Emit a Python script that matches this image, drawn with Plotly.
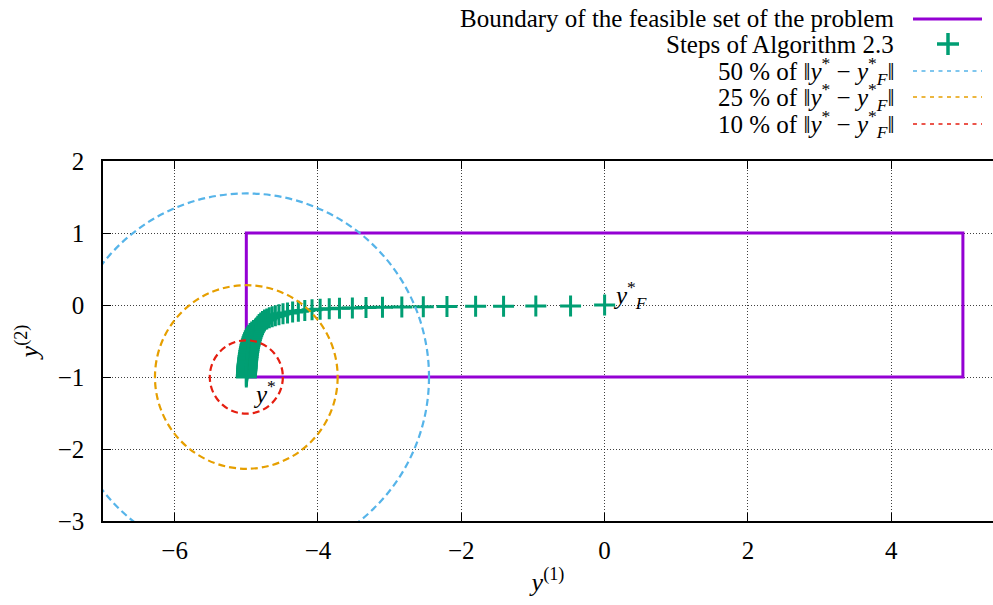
import plotly.graph_objects as go

# Feasible set boundary (box corners, closed path)
box_x = [-5, 5, 5, -5, -5]
box_y = [-1, -1, 1, 1, -1]

# Iterates of Algorithm 2.3, from y_F* towards y*
step_x = [0.000, -0.475, -0.960, -1.410, -1.800, -2.200, -2.530, -2.830, -3.100, -3.330,
          -3.520, -3.700, -3.843, -3.970, -4.083, -4.184, -4.274, -4.354, -4.425, -4.488,
          -4.545, -4.595, -4.639, -4.679, -4.714, -4.746, -4.774, -4.799, -4.821, -4.840,
          -4.858, -4.874, -4.888, -4.900, -4.911, -4.921, -4.929, -4.937, -4.944, -4.950,
          -4.956, -4.961, -4.965, -4.969, -4.972, -4.975, -4.978, -4.980, -4.982, -4.984,
          -4.986, -4.988, -4.989, -4.990, -4.991, -4.992, -4.993, -4.994, -4.995, -4.996,
          -4.997, -4.998, -4.999, -5.000]
step_y = [0.000, -0.013, -0.015, -0.017, -0.019, -0.021, -0.024, -0.028, -0.032, -0.036,
          -0.041, -0.046, -0.052, -0.058, -0.066, -0.076, -0.087, -0.098, -0.110, -0.122,
          -0.135, -0.148, -0.162, -0.177, -0.193, -0.210, -0.229, -0.250, -0.272, -0.295,
          -0.320, -0.346, -0.373, -0.400, -0.428, -0.456, -0.484, -0.512, -0.540, -0.567,
          -0.594, -0.620, -0.645, -0.669, -0.692, -0.714, -0.735, -0.755, -0.774, -0.792,
          -0.809, -0.825, -0.840, -0.854, -0.867, -0.880, -0.892, -0.904, -0.916, -0.930,
          -0.945, -0.960, -0.978, -1.000]

# Reference points
y_star = [-5.0, -1.0]
y_F = [0.0, 0.0]

# Circle radii as percentages of ||y* - y_F*||
percents = [50, 25, 10]
circle_colors = ["#56b4e9", "#e69f00", "#e51e10"]

x_ticks = [-6, -4, -2, 0, 2, 4]
y_ticks = [-3, -2, -1, 0, 1, 2]

PURPLE = "#9400d3"
GREEN = "#009e73"
FONT = "Liberation Serif"

dist = ((y_star[0] - y_F[0]) ** 2 + (y_star[1] - y_F[1]) ** 2) ** 0.5

fig = go.Figure()
fig.add_trace(go.Scatter(x=box_x, y=box_y, mode="lines",
                         line=dict(color=PURPLE, width=3), showlegend=False,
                         hoverinfo="skip"))
fig.add_trace(go.Scatter(x=step_x, y=step_y, mode="markers",
                         marker=dict(symbol="cross-thin", size=15, color=GREEN,
                                     line=dict(color=GREEN, width=3)),
                         showlegend=False))

# Dashed circles around y*
for p, c in zip(percents, circle_colors):
    r = p / 100.0 * dist
    fig.add_shape(type="circle", xref="x", yref="y",
                  x0=y_star[0] - r, x1=y_star[0] + r,
                  y0=y_star[1] - r, y1=y_star[1] + r,
                  line=dict(color=c, width=2.2, dash="7px,4px"), layer="above")

# Point labels
fig.add_annotation(x=y_star[0], y=y_star[1], xref="x", yref="y", showarrow=False,
                   text="<i>y</i><sup>*</sup>", xanchor="left", yanchor="middle",
                   xshift=5, yshift=-15, font=dict(family=FONT, size=25, color="black"))
fig.add_annotation(x=y_F[0], y=y_F[1], xref="x", yref="y", showarrow=False,
                   text="<i>y</i><sup>*</sup><sub><i>F</i></sub>", xanchor="left",
                   yanchor="middle", xshift=6, yshift=10,
                   font=dict(family=FONT, size=25, color="black"))

# Key (text on the left, sample on the right)
L, T, W, H = 103, 161, 890, 360


def px(x):
    return (x - L) / W


def py(y):
    return (T + H - y) / H


norm_txt = "‖<i>y</i><sup>*</sup> − <i>y</i><sup>*</sup><sub><i>F</i></sub>‖"
key_rows = [
    ("Boundary of the feasible set of the problem", 18),
    ("Steps of Algorithm 2.3", 44),
] + [(f"{p} % of {norm_txt}", yy) for p, yy in zip(percents, [71, 97, 124])]

for txt, yy in key_rows:
    fig.add_annotation(x=px(896), y=py(yy), xref="paper", yref="paper", showarrow=False,
                       text=txt, xanchor="right", yanchor="middle",
                       font=dict(family=FONT, size=25, color="black"))

fig.add_shape(type="line", xref="paper", yref="paper", x0=px(913), x1=px(982),
              y0=py(19), y1=py(19), line=dict(color=PURPLE, width=3))
fig.add_shape(type="line", xref="paper", yref="paper", x0=px(937), x1=px(959),
              y0=py(44), y1=py(44), line=dict(color=GREEN, width=3.5))
fig.add_shape(type="line", xref="paper", yref="paper", x0=px(948), x1=px(948),
              y0=py(33), y1=py(55), line=dict(color=GREEN, width=3.5))
for c, yy in zip(circle_colors, [71, 97, 124]):
    fig.add_shape(type="line", xref="paper", yref="paper", x0=px(913), x1=px(982),
                  y0=py(yy), y1=py(yy), line=dict(color=c, width=1.6, dash="4px,4.5px"))

axis_common = dict(showline=True, linecolor="black", linewidth=1.5,
                   ticks="inside", ticklen=8, tickwidth=1, tickcolor="black",
                   showgrid=True, gridcolor="rgba(0,0,0,0.75)", gridwidth=1,
                   griddash="1px,2px", zeroline=False,
                   tickfont=dict(family=FONT, size=25, color="black"))

fig.update_xaxes(range=[-7, 5.42], tickvals=x_ticks,
                 ticktext=[str(v).replace("-", "−") for v in x_ticks],
                 mirror="ticks", ticklabelstandoff=6,
                 title=dict(text="<i>y</i><sup>(1)</sup>", standoff=10,
                            font=dict(family=FONT, size=26, color="black")),
                 **axis_common)
fig.update_yaxes(range=[-3, 2], tickvals=y_ticks,
                 ticktext=[str(v).replace("-", "−") for v in y_ticks],
                 mirror=False, ticklabelstandoff=12,
                 title=dict(text="<i>y</i><sup>(2)</sup>", standoff=12,
                            font=dict(family=FONT, size=26, color="black")),
                 **axis_common)

fig.update_layout(width=993, height=605, plot_bgcolor="white", paper_bgcolor="white",
                  font=dict(family=FONT, size=25, color="black"),
                  margin=dict(l=L, r=0, t=T, b=605 - T - H, pad=0),
                  showlegend=False)

fig.write_html("out.html")
